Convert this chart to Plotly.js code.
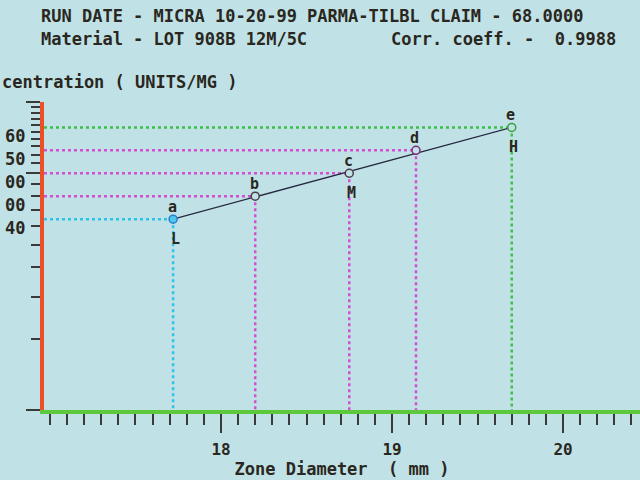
<!DOCTYPE html>
<html>
<head>
<meta charset="utf-8">
<script src="https://cdn.plot.ly/plotly-3.0.1.min.js"></script>
<style>
html,body{margin:0;padding:0;background:#c0e2e6;}
#chart{width:640px;height:480px;}
</style>
</head>
<body>
<div id="chart"></div>
<script>
// ---- data ----
const zoneDiameter = [17.72, 18.20, 18.75, 19.14, 19.70];   // mm
const concentration = [0.64, 0.80, 1.00, 1.25, 1.5625];    // UNITS/MG
const pointLabels = ['a', 'b', 'c', 'd', 'e'];
const levelLabels = ['L', '', 'M', '', 'H'];
const yTickText = ['40', '00', '00', '50', '60'];
const xTickVals = [18, 19, 20];
const yMajorTicks = [0.1, 1, 2];
const yMinorTicks = [0.2, 0.3, 0.4, 0.5, 0.6, 0.7, 0.8, 0.9, 1.1, 1.2, 1.3, 1.4, 1.5, 1.6, 1.7, 1.8, 1.9];
const fitZone = [17.72, 19.70];
const fitConc = [0.64, 1.5625];
const xRange = [16.965, 20.45];
const yRange = [0.1, 2.0];
const headerLine1 = 'RUN DATE - MICRA 10-20-99 PARMA-TILBL CLAIM - 68.0000';
const headerLine2 = 'Material - LOT 908B 12M/5C';
const corrText = 'Corr. coeff. -  0.9988';

// ---- styles ----
const BG = '#c0e2e6';
const INK = '#2a2620';
const FONT = 'DejaVu Sans Mono, Liberation Mono, monospace';
const guideColors = ['#2cc3e8', '#d24fd2', '#d24fd2', '#d24fd2', '#3fbf4a'];
const markerLine = ['#2a7fd0', '#4a3a4a', '#4a3a4a', '#7a2a7a', '#3aa040'];
const markerFill = ['#4fc8ee', BG, BG, BG, BG];

const traces = [];
for (let i = 0; i < zoneDiameter.length; i++) {
  traces.push({
    x: [xRange[0], zoneDiameter[i]], y: [concentration[i], concentration[i]],
    mode: 'lines', line: {color: guideColors[i], width: 2.5, dash: 'dot'},
    hoverinfo: 'skip', showlegend: false
  });
  traces.push({
    x: [zoneDiameter[i], zoneDiameter[i]], y: [concentration[i], yRange[0]],
    mode: 'lines', line: {color: guideColors[i], width: 2.5, dash: 'dot'},
    hoverinfo: 'skip', showlegend: false
  });
}
traces.push({
  x: fitZone, y: fitConc, mode: 'lines',
  line: {color: '#262840', width: 1.3}, hoverinfo: 'skip', showlegend: false
});
traces.push({
  x: zoneDiameter, y: concentration, mode: 'markers',
  marker: {symbol: 'circle', size: 8, color: markerFill, line: {color: markerLine, width: 1.5}},
  showlegend: false
});

const annotations = [];
function ann(o) {
  annotations.push(Object.assign({showarrow: false, font: {family: FONT, size: 17, color: INK, weight: 'bold'}}, o));
}
const W = 596, L = 44, T = 102, H = 308;
function px(xp) { return (xp - L) / W; }
function py(yp) { return (T + H - yp) / H; }

ann({text: headerLine1, xref: 'paper', yref: 'paper', x: px(39), y: py(16), xanchor: 'left', yanchor: 'middle'});
ann({text: headerLine2, xref: 'paper', yref: 'paper', x: px(39), y: py(39), xanchor: 'left', yanchor: 'middle'});
ann({text: corrText, xref: 'paper', yref: 'paper', x: px(389), y: py(39), xanchor: 'left', yanchor: 'middle'});
ann({text: 'centration ( UNITS/MG )', xref: 'paper', yref: 'paper', x: px(0), y: py(82), xanchor: 'left', yanchor: 'middle'});

for (let i = 0; i < concentration.length; i++) {
  ann({text: yTickText[i], xref: 'paper', yref: 'y', x: px(15), y: Math.log10(concentration[i]),
       yshift: -9, xanchor: 'center', yanchor: 'middle'});
  ann({text: pointLabels[i], xref: 'x', yref: 'y', x: zoneDiameter[i], y: Math.log10(concentration[i]),
       yshift: 12, xshift: -1, xanchor: 'center', yanchor: 'middle', font: {family: FONT, size: 15, color: INK, weight: 'bold'}});
  if (levelLabels[i]) {
    ann({text: levelLabels[i], xref: 'x', yref: 'y', x: zoneDiameter[i], y: Math.log10(concentration[i]),
         yshift: -20, xshift: 2, xanchor: 'center', yanchor: 'middle', font: {family: FONT, size: 15, color: INK, weight: 'bold'}});
  }
}

const layout = {
  width: 640, height: 480,
  margin: {l: L, r: 0, t: T, b: 480 - T - H},
  paper_bgcolor: BG, plot_bgcolor: BG,
  showlegend: false,
  font: {family: FONT, color: INK},
  xaxis: {
    range: xRange, showgrid: false, zeroline: false,
    showline: true, linecolor: '#5cc83c', linewidth: 4,
    tickmode: 'array', tickvals: xTickVals, ticks: 'outside', ticklen: 19, tickwidth: 2, tickcolor: '#3a3a3a',
    ticklabelstandoff: 3,
    tickfont: {family: FONT, size: 16, color: INK, weight: 'bold'},
    minor: {dtick: 0.1, ticks: 'outside', ticklen: 11, tickwidth: 2, tickcolor: '#3a3a3a', showgrid: false},
    title: {text: 'Zone Diameter  ( mm )', font: {family: FONT, size: 17, color: INK, weight: 'bold'}, standoff: 0}
  },
  yaxis: {
    type: 'log', range: [Math.log10(yRange[0]), Math.log10(yRange[1])],
    showgrid: false, zeroline: false,
    showline: true, linecolor: '#ec4f26', linewidth: 4,
    tickmode: 'array', tickvals: yMajorTicks, ticks: 'outside', ticklen: 14, tickwidth: 2, tickcolor: '#3a3a3a',
    showticklabels: false,
    minor: {tickmode: 'array', tickvals: yMinorTicks, ticks: 'outside', ticklen: 9, tickwidth: 2, tickcolor: '#3a3a3a', showgrid: false}
  },
  annotations: annotations
};

Plotly.newPlot('chart', traces, layout, {displayModeBar: false, staticPlot: true});
</script>
</body>
</html>
